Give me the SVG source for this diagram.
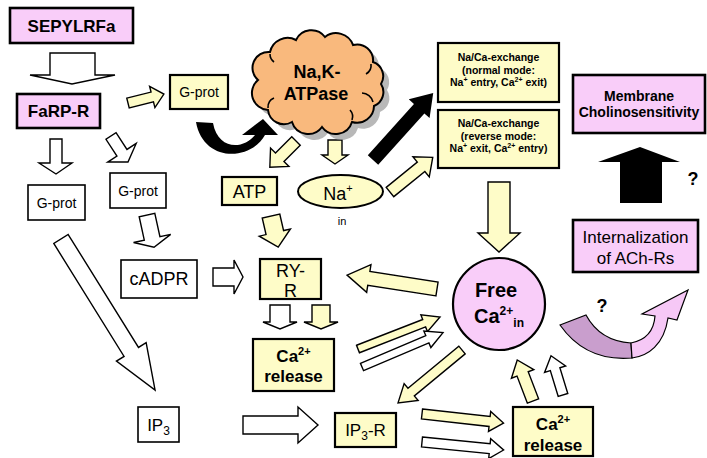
<svg xmlns="http://www.w3.org/2000/svg" width="707" height="458" viewBox="0 0 707 458">
<style>
text{font-family:"Liberation Sans",Arial,sans-serif;fill:#000;text-anchor:middle}
.b{font-weight:bold}
.pink{fill:#f9cdf9;stroke:#000;stroke-width:2.6}
.yel{fill:#fefcc8;stroke:#000;stroke-width:2.2}
.wht{fill:#fff;stroke:#000;stroke-width:1.6}
.ay{fill:#fefcc8;stroke:#000;stroke-width:1.4;stroke-linejoin:miter}
.aw{fill:#fff;stroke:#000;stroke-width:1.4}
.ab{fill:#000;stroke:none}
</style>
<rect width="707" height="458" fill="#fff"/>

<g id="connectors">
  <polygon class="aw" points="50,53 95,53 95,75 115,75 72,84 30,75 50,75"/>
  <polygon class="ay" transform="translate(128,103) rotate(-14)" points="0,-5 25,-5 25,-11 37,0 25,11 25,5 0,5"/>
  <path class="ab" d="M196,122 C203,162 250,162 265,135 L255,135 C243,150 218,150 213,123 Z"/>
  <polygon class="ab" points="242,135 263,119 278,135"/>
  <polygon class="ay" transform="translate(296,141) rotate(135)" points="0,-6 23,-6 23,-13 37,0 23,13 23,6 0,6"/>
  <polygon class="ay" points="328,140 342,140 342,155 348,155 335,164 322,155 328,155"/>
  <polygon class="ay" transform="translate(390,192) rotate(-39)" points="0,-6 40,-6 40,-13 55,0 40,13 40,6 0,6"/>
  <polygon class="ab" transform="translate(373,160) rotate(-48)" points="0,-7 69,-7 69,-14 90,0 69,14 69,7 0,7"/>
  <polygon class="ay" points="488,182 510,182 510,233 520,233 499,252 478,233 488,233"/>
  <polygon class="ab" points="620,203 662,203 662,162 680,162 640,147 598,162 620,162"/>
  <polygon class="ay" transform="translate(271,216) rotate(77)" points="0,-9 17,-9 17,-16 32,0 17,16 17,9 0,9"/>
  <polygon class="aw" points="213,268 234,268 234,260 243,277 234,294 234,286 213,286"/>
  <polygon class="ay" transform="translate(437,289) rotate(-171.2)" points="0,-7 69,-7 69,-14 91,0 69,14 69,7 0,7"/>
  <polygon class="ay" transform="translate(358,349) rotate(-21.3)" points="0,-4 71,-4 71,-9 88,0 71,9 71,4 0,4"/>
  <polygon class="aw" transform="translate(362,367) rotate(-23)" points="0,-4 71,-4 71,-9 88,0 71,9 71,4 0,4"/>
  <polygon class="ay" transform="translate(462,350) rotate(140.4)" points="0,-5 66,-5 66,-11 83,0 66,11 66,5 0,5"/>
  <polygon class="ay" transform="translate(533,401) rotate(-111)" points="0,-6 29,-6 29,-12 44,0 29,12 29,6 0,6"/>
  <polygon class="aw" transform="translate(563,395) rotate(-107)" points="0,-5 27,-5 27,-11 41,0 27,11 27,5 0,5"/>
  <polygon class="ay" transform="translate(422,414) rotate(6.3)" points="0,-5 68,-5 68,-10 82,0 68,10 68,5 0,5"/>
  <polygon class="aw" transform="translate(422,442) rotate(5.6)" points="0,-5 68,-5 68,-10 82,0 68,10 68,5 0,5"/>
  <polygon class="aw" points="243,416 298,416 298,407 318,425 298,443 298,434 243,434"/>
  <polygon class="aw" transform="translate(61,239) rotate(58.1)" points="0,-8.5 133,-8.5 133,-17.5 178,0 133,17.5 133,8.5 0,8.5"/>
  <polygon class="aw" points="50,139 62,139 62,163 72,163 56,174 39,163 50,163"/>
  <polygon class="aw" transform="translate(111,136) rotate(56.8)" points="0,-6 20,-6 20,-17 31,0 20,17 20,6 0,6"/>
  <polygon class="aw" transform="translate(147,215) rotate(77.7)" points="0,-8 24,-8 24,-19 33,0 24,19 24,8 0,8"/>
  <polygon class="aw" points="270,305 290,305 290,322 297,322 280,329 263,322 270,322"/>
  <polygon class="ay" points="312,305 330,305 330,322 338,322 321,329 304,322 312,322"/>
  <path d="M560,325 L586,315 Q600,341 631,343 L632,358 Q586,362 560,325 Z" fill="#c99ecd" stroke="#000" stroke-width="1.2"/>
  <path d="M631,343 C646,340 654,330 655,316 L642,314 L688,290 L677,320 L668,318 C664,345 648,356 632,358 Z" fill="#f6c8f6" stroke="#000" stroke-width="1.2"/>
</g>

<g id="sepylrfa"><rect class="pink" x="10" y="8" width="123" height="35"/><text class="b" x="71.5" y="32" font-size="17">SEPYLRFa</text></g>
<g id="farp-r"><rect class="pink" x="17" y="94" width="83" height="34"/><text class="b" x="58.5" y="117" font-size="17">FaRP-R</text></g>
<g id="gprot-top"><rect class="yel" x="170" y="75" width="58" height="34" stroke-width="1.8"/><text x="199" y="97" font-size="14">G-prot</text></g>
<g id="na-k-atpase">
  <path transform="translate(6,6)" fill="#9a9a9a" opacity="0.7" d="M258,80 A16,16 0 0 1 270,52 A18,18 0 0 1 296,40 A17,17 0 0 1 325,37 A18,18 0 0 1 353,45 A16,16 0 0 1 373,62 A15,15 0 0 1 381,84 A15,15 0 0 1 374,106 A17,17 0 0 1 352,122 A17,17 0 0 1 322,127 A17,17 0 0 1 292,122 A16,16 0 0 1 268,110 A17,17 0 0 1 258,80 Z"/>
  <path fill="#f9b97d" stroke="#000" stroke-width="2" d="M258,80 A16,16 0 0 1 270,52 A18,18 0 0 1 296,40 A17,17 0 0 1 325,37 A18,18 0 0 1 353,45 A16,16 0 0 1 373,62 A15,15 0 0 1 381,84 A15,15 0 0 1 374,106 A17,17 0 0 1 352,122 A17,17 0 0 1 322,127 A17,17 0 0 1 292,122 A16,16 0 0 1 268,110 A17,17 0 0 1 258,80 Z"/>
  <path fill="none" stroke="#000" stroke-width="1.6" d="M371,64 A10,10 0 0 1 366,74 M373,102 A12,12 0 0 0 362,93 M270,54 A10,10 0 0 0 274,62 M268,108 A10,10 0 0 1 274,98 M352,120 A10,10 0 0 0 350,110"/>
  <text class="b" x="317" y="78" font-size="18">Na,K-</text>
  <text class="b" x="316" y="100" font-size="18">ATPase</text>
</g>
<g id="na-ca-normal"><rect class="yel" x="438" y="43" width="121" height="59" stroke-width="2.6"/>
  <text class="b" font-size="10.5" x="498.5" y="61">Na/Ca-exchange</text>
  <text class="b" font-size="10.5" x="498.5" y="74">(normal mode:</text>
  <text class="b" font-size="10.5" x="498.5" y="86">Na<tspan font-size="7" dy="-4">+</tspan><tspan dy="4"> entry, Ca</tspan><tspan font-size="7" dy="-4">2+</tspan><tspan dy="4"> exit)</tspan></text>
</g>
<g id="na-ca-reverse"><rect class="yel" x="438" y="110" width="121" height="58" stroke-width="2.6"/>
  <text class="b" font-size="10.5" x="498.5" y="127">Na/Ca-exchange</text>
  <text class="b" font-size="10.5" x="498.5" y="140">(reverse mode:</text>
  <text class="b" font-size="10.5" x="498.5" y="152">Na<tspan font-size="7" dy="-4">+</tspan><tspan dy="4"> exit, Ca</tspan><tspan font-size="7" dy="-4">2+</tspan><tspan dy="4"> entry)</tspan></text>
</g>
<g id="membrane"><rect class="pink" x="573" y="75" width="132" height="58"/>
  <text class="b" font-size="14" x="639" y="101">Membrane</text>
  <text class="b" font-size="14" x="639" y="117">Cholinosensitivity</text>
</g>
<g id="q1"><text class="b" font-size="18" x="693" y="185">?</text></g>
<g id="internalization"><rect class="pink" x="573" y="220" width="125" height="52"/>
  <text font-size="17" x="635.5" y="243">Internalization</text>
  <text font-size="17" x="635.5" y="264">of ACh-Rs</text>
</g>
<g id="q2"><text class="b" font-size="18" x="602" y="312">?</text></g>
<g id="atp"><rect class="yel" x="222" y="177" width="55" height="28" stroke-width="1.8"/><text x="249.5" y="197.5" font-size="18">ATP</text></g>
<g id="na-in"><ellipse cx="340.5" cy="191.5" rx="42.5" ry="16.5" fill="#fefcc8" stroke="#000" stroke-width="2"/>
  <text x="338" y="200" font-size="18">Na<tspan font-size="11" dy="-8">+</tspan></text>
  <text x="342" y="225" font-size="11">in</text>
</g>
<g id="gprot-left"><rect class="wht" x="28" y="185" width="57" height="35"/><text x="56.5" y="207.5" font-size="14">G-prot</text></g>
<g id="gprot-mid"><rect class="wht" x="110" y="173" width="56" height="35"/><text x="138" y="195.5" font-size="14">G-prot</text></g>
<g id="cadpr"><rect class="wht" x="121" y="260" width="76" height="38"/><text x="159" y="285" font-size="18">cADPR</text></g>
<g id="ry-r"><rect class="yel" x="260" y="259" width="61" height="40"/>
  <text x="290.5" y="277" font-size="18">RY-</text><text x="290.5" y="297" font-size="18">R</text></g>
<g id="ca-release-1"><rect class="yel" x="253" y="339" width="81" height="52"/>
  <text class="b" x="293.5" y="362" font-size="17">Ca<tspan font-size="11" dy="-7">2+</tspan></text>
  <text class="b" x="293.5" y="382" font-size="17">release</text></g>
<g id="free-ca"><circle cx="499" cy="304" r="46" fill="#f9cdf9" stroke="#000" stroke-width="2.2"/>
  <text class="b" x="496" y="297" font-size="20">Free</text>
  <text class="b" x="499" y="323" font-size="20">Ca<tspan font-size="12" dy="-8">2+</tspan><tspan font-size="12" dy="12">in</tspan></text>
</g>
<g id="ip3"><rect class="wht" x="138" y="407" width="41" height="35"/><text x="158.5" y="431" font-size="17">IP<tspan font-size="12" dy="4">3</tspan></text></g>
<g id="ip3-r"><rect class="yel" x="335" y="413" width="61" height="34"/><text x="365.5" y="436" font-size="17">IP<tspan font-size="12" dy="4">3</tspan><tspan dy="-4">-R</tspan></text></g>
<g id="ca-release-2"><rect class="yel" x="513" y="407" width="80" height="49"/>
  <text class="b" x="553" y="430" font-size="17">Ca<tspan font-size="11" dy="-7">2+</tspan></text>
  <text class="b" x="553" y="451" font-size="17">release</text></g>
</svg>
